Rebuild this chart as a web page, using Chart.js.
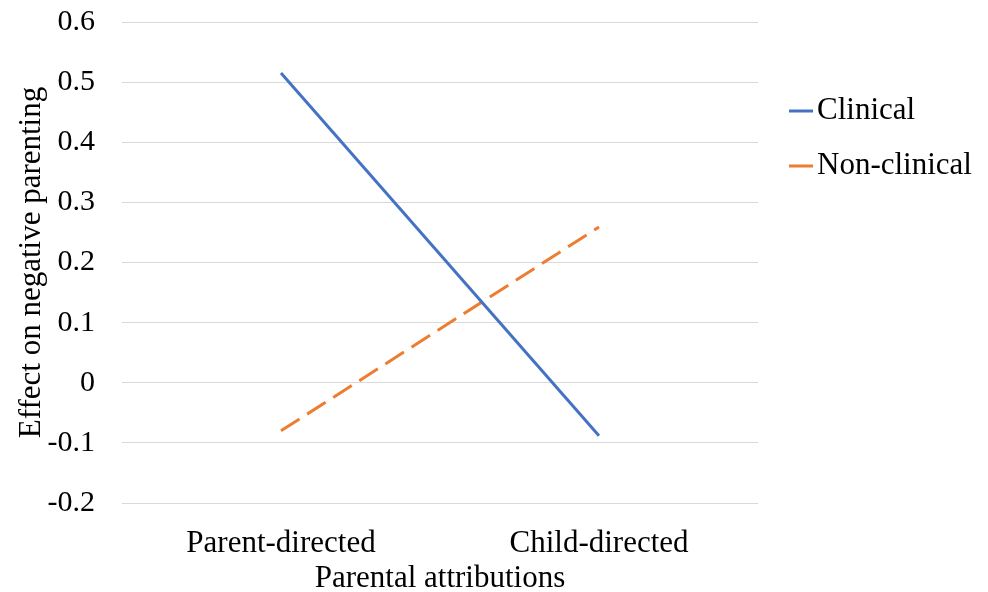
<!DOCTYPE html>
<html>
<head>
<meta charset="utf-8">
<script src="https://cdn.jsdelivr.net/npm/chart.js@4/dist/chart.umd.min.js"></script>
<style>
  html, body { margin: 0; padding: 0; background: #fff; }
  #wrap { width: 988px; height: 592px; }
</style>
</head>
<body>
<div id="wrap"><canvas id="chart"></canvas></div>
<script>
const categories = ['Parent-directed', 'Child-directed'];
const clinical = [0.515, -0.088];
const nonClinical = [-0.080, 0.259];
const seriesNames = ['Clinical', 'Non-clinical'];
const seriesColors = ['#4472C4', '#ED7D31'];

const FONT = 'Liberation Serif, Times New Roman, serif';

// legend drawn to the right of the plot, like the original
const sideLegend = {
    id: 'sideLegend',
    afterDraw(chart) {
        const ctx = chart.ctx;
        ctx.save();
        ctx.font = '31px ' + FONT;
        ctx.textBaseline = 'middle';
        ctx.fillStyle = '#000';
        chart.data.datasets.forEach((ds, i) => {
            const y = 111 + i * 55;
            ctx.strokeStyle = ds.borderColor;
            ctx.lineWidth = 3;
            ctx.beginPath();
            ctx.moveTo(789, y);
            ctx.lineTo(813, y);
            ctx.stroke();
            ctx.fillText(ds.label, 817, y);
        });
        ctx.restore();
    }
};

new Chart(document.getElementById('chart').getContext('2d'), {
    type: 'line',
    data: {
        labels: categories,
        datasets: [
            {
                label: seriesNames[0],
                data: clinical,
                borderColor: seriesColors[0],
                backgroundColor: seriesColors[0],
                borderWidth: 3,
                pointRadius: 0,
                tension: 0,
            },
            {
                label: seriesNames[1],
                data: nonClinical,
                borderColor: seriesColors[1],
                backgroundColor: seriesColors[1],
                borderWidth: 3,
                borderDash: [22, 9],
                pointRadius: 0,
                tension: 0,
            },
        ],
    },
    options: {
        responsive: true,
        maintainAspectRatio: false,
        animation: false,
        layout: { padding: { top: 22, right: 230, bottom: 0, left: 0 } },
        plugins: {
            legend: { display: false },
            tooltip: { enabled: false },
        },
        scales: {
            x: {
                offset: true,
                grid: { display: false },
                border: { display: false },
                ticks: { color: '#000', font: { family: FONT, size: 31 }, padding: 14, maxRotation: 0 },
                title: {
                    display: true,
                    text: 'Parental attributions',
                    color: '#000',
                    font: { family: FONT, size: 31 },
                    padding: { top: 0, bottom: -5 },
                },
                afterFit(scale) { scale.height = 89; },
            },
            y: {
                min: -0.2,
                max: 0.6,
                grid: { color: '#d9d9d9', lineWidth: 1, drawTicks: false },
                border: { display: false },
                ticks: {
                    stepSize: 0.1,
                    color: '#000',
                    font: { family: FONT, size: 30 },
                    padding: 27,
                    callback: (v) => {
                        const r = Math.round(v * 10) / 10;
                        return r === 0 ? '0' : r.toFixed(1);
                    },
                },
                title: {
                    display: true,
                    text: 'Effect on negative parenting',
                    color: '#000',
                    font: { family: FONT, size: 31 },
                    padding: { top: 13, bottom: 0 },
                },
                afterFit(scale) {
                    scale.width = 122;
                    // tick padding would otherwise push the plot top down
                    scale.paddingTop = 0;
                    scale.paddingBottom = 0;
                },
            },
        },
    },
    plugins: [sideLegend],
});
</script>
</body>
</html>
